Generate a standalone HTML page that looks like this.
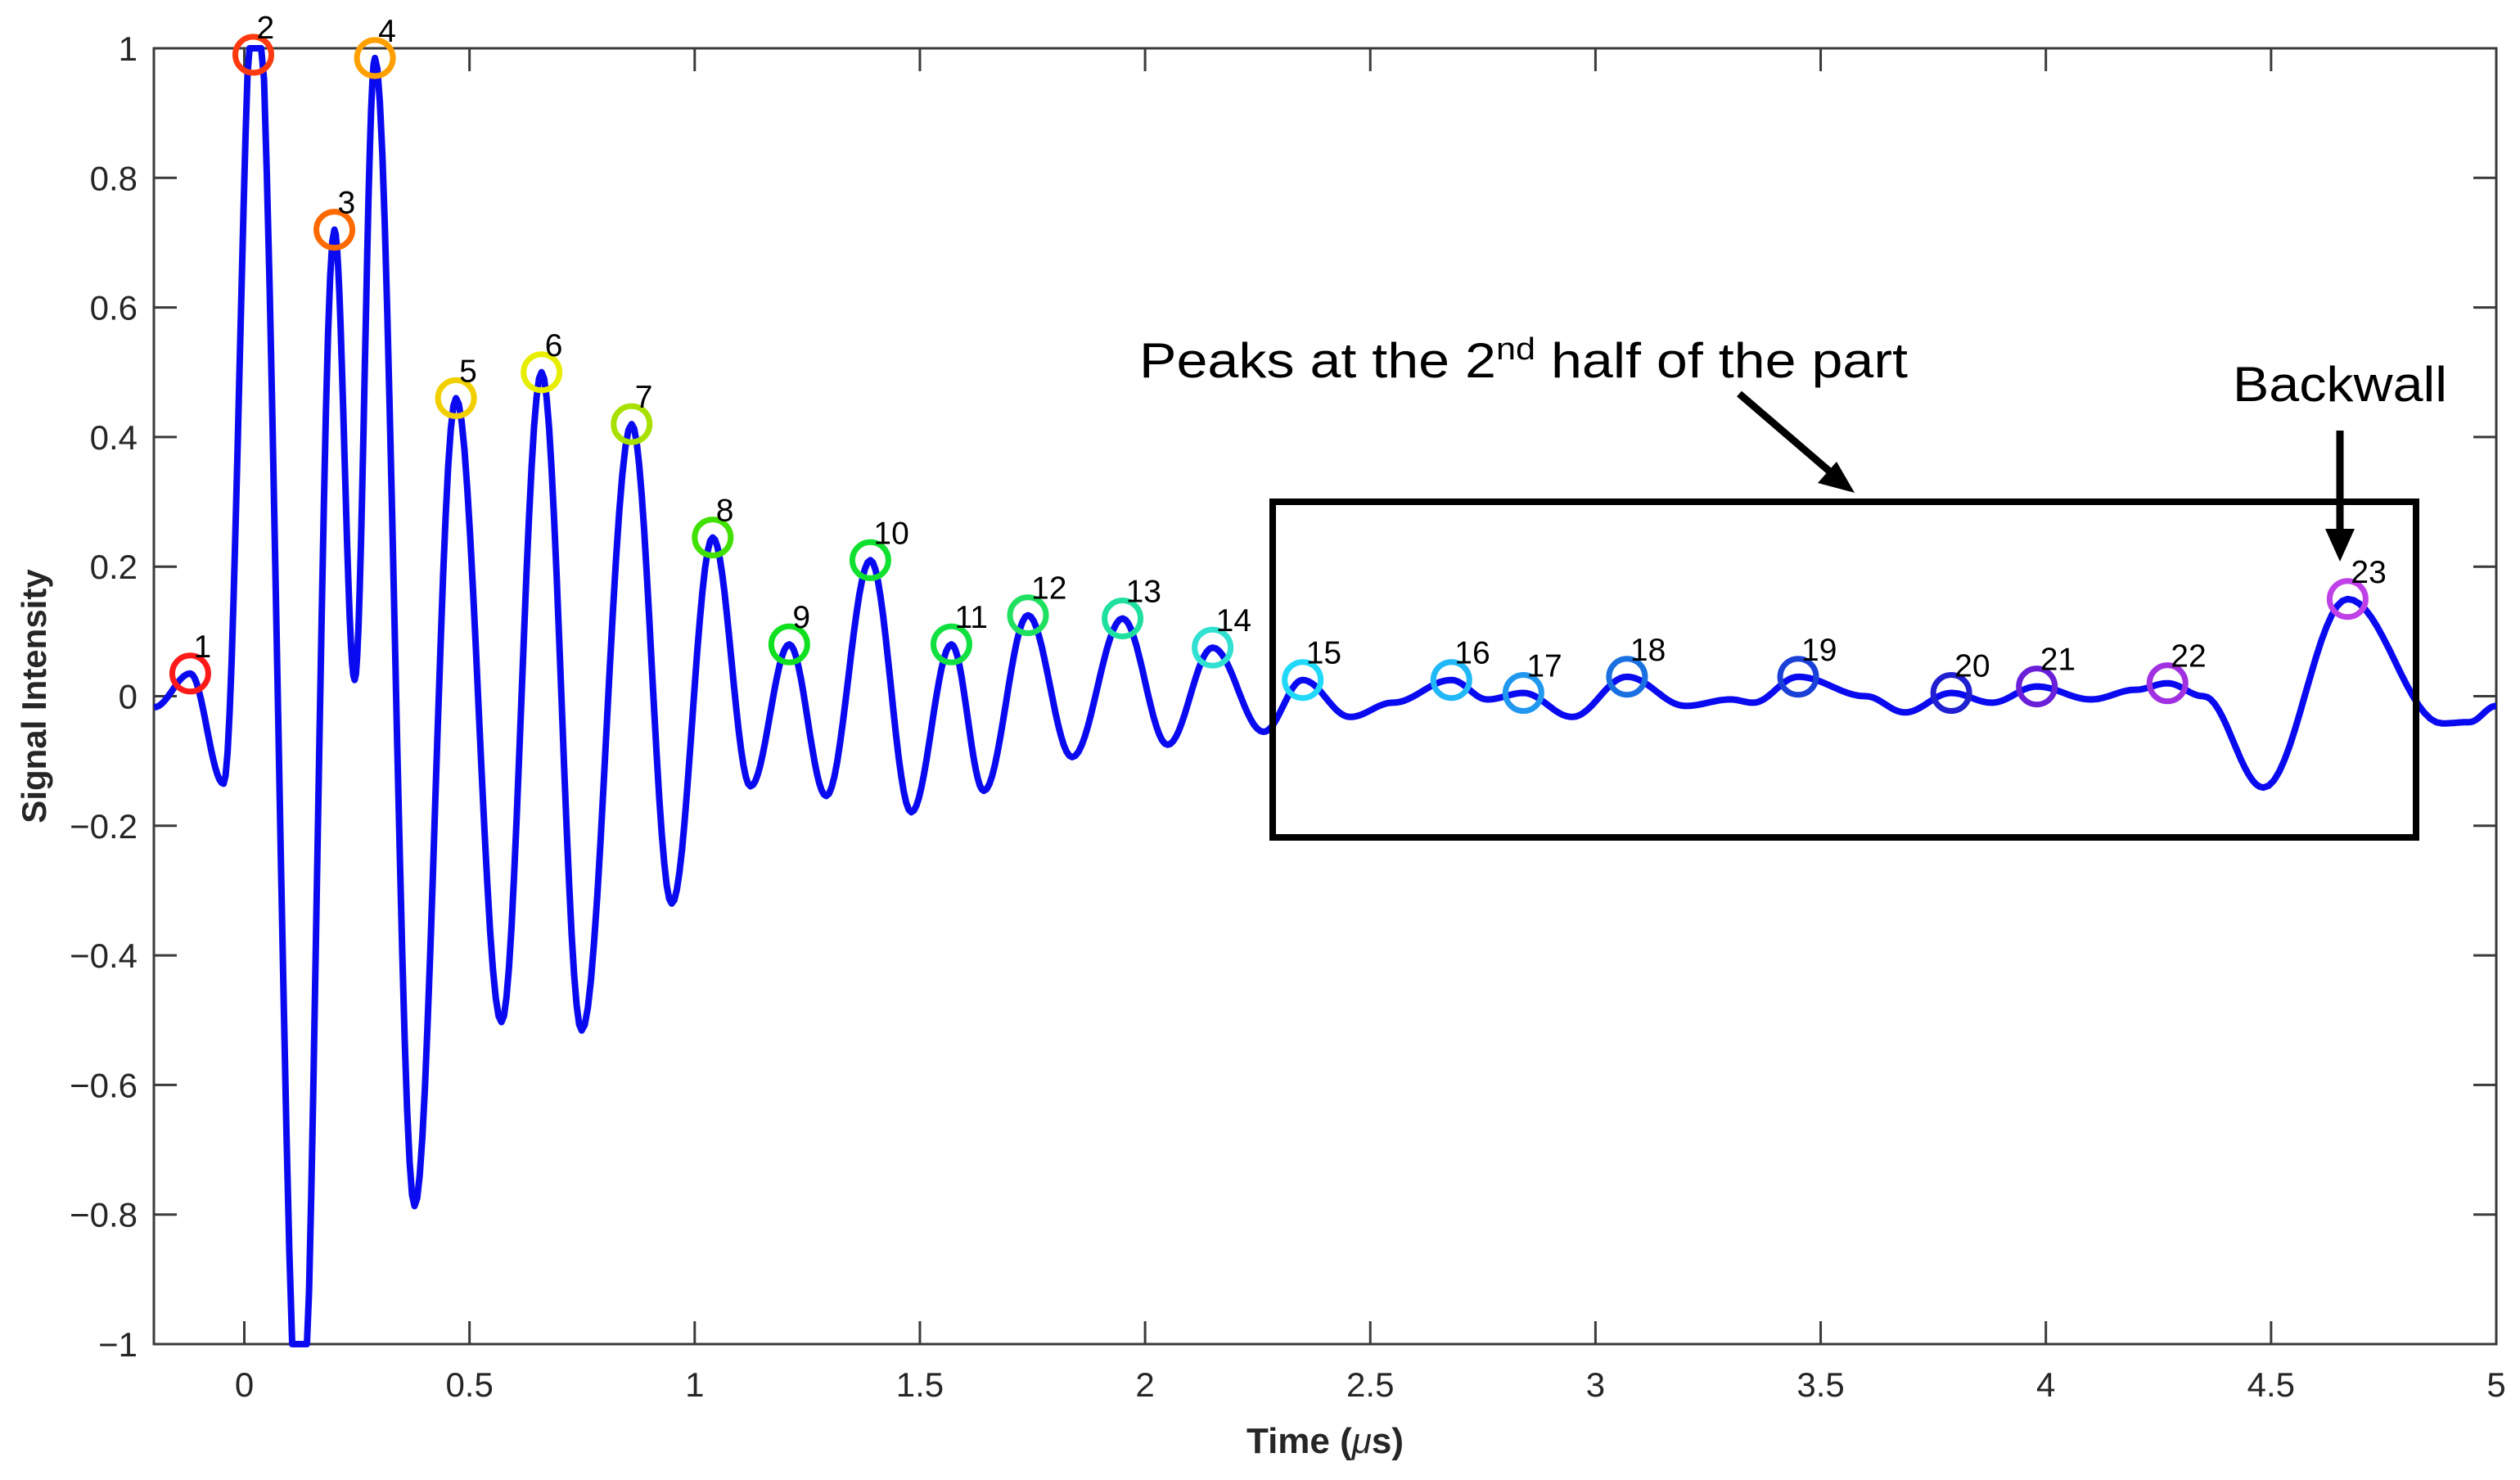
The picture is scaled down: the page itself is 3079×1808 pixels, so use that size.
<!DOCTYPE html>
<html><head><meta charset="utf-8"><style>
html,body{margin:0;padding:0;background:#fff;}
svg{display:block;}
text{font-family:"Liberation Sans",sans-serif;}
</style></head><body>
<svg id="chart" width="3079" height="1808" viewBox="0 0 3079 1808" xmlns="http://www.w3.org/2000/svg">
<defs><clipPath id="plotclip"><rect x="188" y="52" width="2862" height="1597"/></clipPath></defs>
<rect x="0" y="0" width="3079" height="1808" fill="#fff"/>
<g id="axes"></g>
<g id="series" clip-path="url(#plotclip)"></g>
<g id="peaks"></g>
<g>
<rect x="1555" y="613" width="1397" height="410" fill="none" stroke="#000" stroke-width="8"/>
<text x="1392" y="461" font-size="60" textLength="939" lengthAdjust="spacingAndGlyphs" style="font-family:'Liberation Sans Narrow','Liberation Sans',sans-serif">Peaks at the 2<tspan font-size="38" dy="-22">nd</tspan><tspan dy="22"> half of the part</tspan></text>
<text x="2728" y="490" font-size="60" textLength="262" lengthAdjust="spacingAndGlyphs" style="font-family:'Liberation Sans Narrow','Liberation Sans',sans-serif">Backwall</text>
<line x1="2125" y1="481" x2="2238" y2="578" stroke="#000" stroke-width="9"/>
<polygon points="2266,602 2221,590 2244,564" fill="#000"/>
<line x1="2859" y1="526" x2="2859" y2="650" stroke="#000" stroke-width="9"/>
<polygon points="2859,686 2841,646 2877,646" fill="#000"/>
</g>
</svg>
<script>
const xTicks = [0, 0.5, 1, 1.5, 2, 2.5, 3, 3.5, 4, 4.5, 5];
const xTickLabels = ["0","0.5","1","1.5","2","2.5","3","3.5","4","4.5","5"];
const yTicks = [-1,-0.8,-0.6,-0.4,-0.2,0,0.2,0.4,0.6,0.8,1];
const yTickLabels = ["\u22121","\u22120.8","\u22120.6","\u22120.4","\u22120.2","0","0.2","0.4","0.6","0.8","1"];
// signal extrema (time in us, intensity)
const sigT = [-0.2,-0.12,-0.046,0.025,0.125,0.2,0.245,0.29,0.378,0.47,0.571,0.66,0.749,0.86,0.949,1.04,1.124,1.21,1.292,1.39,1.481,1.57,1.642,1.74,1.838,1.95,2.05,2.15,2.263,2.35,2.455,2.55,2.68,2.76,2.84,2.948,3.07,3.2,3.3,3.35,3.45,3.6,3.687,3.79,3.88,3.98,4.1,4.2,4.27,4.35,4.483,4.67,4.88,4.94,5.0];
const sigV = [-0.017,0.035,-0.135,1.15,-1.2,0.72,0.025,0.985,-0.787,0.46,-0.503,0.5,-0.516,0.42,-0.32,0.245,-0.139,0.08,-0.154,0.21,-0.179,0.08,-0.146,0.125,-0.094,0.12,-0.075,0.075,-0.055,0.025,-0.032,-0.01,0.025,-0.005,0.005,-0.032,0.03,-0.015,-0.005,-0.01,0.03,0.0,-0.025,0.005,-0.01,0.015,-0.005,0.01,0.02,0.0,-0.141,0.15,-0.042,-0.04,-0.015];
// detected peaks
const peakT = [-0.12,0.02,0.2,0.29,0.47,0.66,0.86,1.04,1.21,1.39,1.57,1.74,1.95,2.15,2.35,2.68,2.84,3.07,3.45,3.79,3.98,4.27,4.67];
const peakV = [0.035,0.99,0.72,0.985,0.46,0.5,0.42,0.245,0.08,0.21,0.08,0.125,0.12,0.075,0.025,0.025,0.005,0.03,0.03,0.005,0.015,0.02,0.15];
const peakColors = ["#ff1a1a","#ff3a10","#ff6a00","#ffa000","#f2d000","#e8ee00","#a8e000","#40e000","#10e020","#10e030","#10e040","#20e060","#20e0a0","#30e0d0","#20d8f8","#20b8f8","#2098f0","#1a70e0","#1a40d8","#2020d0","#6a20d8","#a030e0","#c040e8"];
const NS = "http://www.w3.org/2000/svg";
const L = 188, R = 3050, T = 59, B = 1642;
function sx(t){ return 298.5 + (t - 0) * 550.3; }
function sy(v){ return 850.5 - v * 791.5; }
function mk(tag, attrs, parent){ const e = document.createElementNS(NS, tag); for (const k in attrs) e.setAttribute(k, attrs[k]); parent.appendChild(e); return e; }
const axes = document.getElementById('axes');
const frame = mk('rect', {x:L, y:T, width:R-L, height:B-T, fill:'none', stroke:'#3a3a3a', 'stroke-width':3}, axes);


xTicks.forEach((t, i) => {
  const x = sx(t);
  const tk = mk('path', {d:`M${x},${B}V${B-28}M${x},${T}V${T+28}`, stroke:'#3a3a3a', 'stroke-width':3}, axes);
  
  
  const lb = mk('text', {x:x, y:B+64, 'font-size':42, 'text-anchor':'middle', fill:'#262626'}, axes);
  lb.textContent = xTickLabels[i];
  
  
});
yTicks.forEach((v, i) => {
  const y = sy(v);
  const tk = mk('path', {d:`M${L},${y}H${L+28}M${R},${y}H${R-28}`, stroke:'#3a3a3a', 'stroke-width':3}, axes);
  
  
  const lb = mk('text', {x:L-20, y:y+15, 'font-size':42, 'text-anchor':'end', fill:'#262626'}, axes);
  lb.textContent = yTickLabels[i];
  
  
});
const xl = mk('text', {x:(L+R)/2, y:1775, 'font-size':44, 'font-weight':'bold', 'text-anchor':'middle', fill:'#262626'}, axes);
xl.innerHTML = 'Time (<tspan font-style="italic" font-weight="normal">\u03bc</tspan>s)';


const yl = mk('text', {x:0, y:0, 'font-size':42, 'font-weight':'bold', 'text-anchor':'middle', fill:'#262626', transform:`translate(56,${(T+B)/2}) rotate(-90)`}, axes);
yl.textContent = 'Signal Intensity';


// signal line: cosine interpolation between extrema, clamped to axis limits
let d = '';
for (let i = 0; i < sigT.length - 1; i++) {
  const n = 16;
  for (let k = 0; k <= n; k++) {
    if (i > 0 && k === 0) continue;
    const f = k / n, w = (1 - Math.cos(Math.PI * f)) / 2;
    const t = sigT[i] + (sigT[i+1] - sigT[i]) * f;
    let v = sigV[i] + (sigV[i+1] - sigV[i]) * w;
    v = Math.max(-1, Math.min(1, v));
    d += (d ? 'L' : 'M') + sx(t).toFixed(1) + ',' + sy(v).toFixed(1);
  }
}
const line = mk('path', {d:d, fill:'none', stroke:'#0a0af0', 'stroke-width':8, 'stroke-linejoin':'round'}, document.getElementById('series'));


const pk = document.getElementById('peaks');
peakT.forEach((t, i) => {
  const c = mk('circle', {cx:sx(t), cy:sy(peakV[i]), r:22, fill:'none', stroke:peakColors[i], 'stroke-width':7}, pk);
  
  
  const lb = mk('text', {x:sx(t)+4, y:sy(peakV[i])-20, 'font-size':39, fill:'#000'}, pk);
  lb.textContent = String(i + 1);
  
  
});
</script>
</body></html>
